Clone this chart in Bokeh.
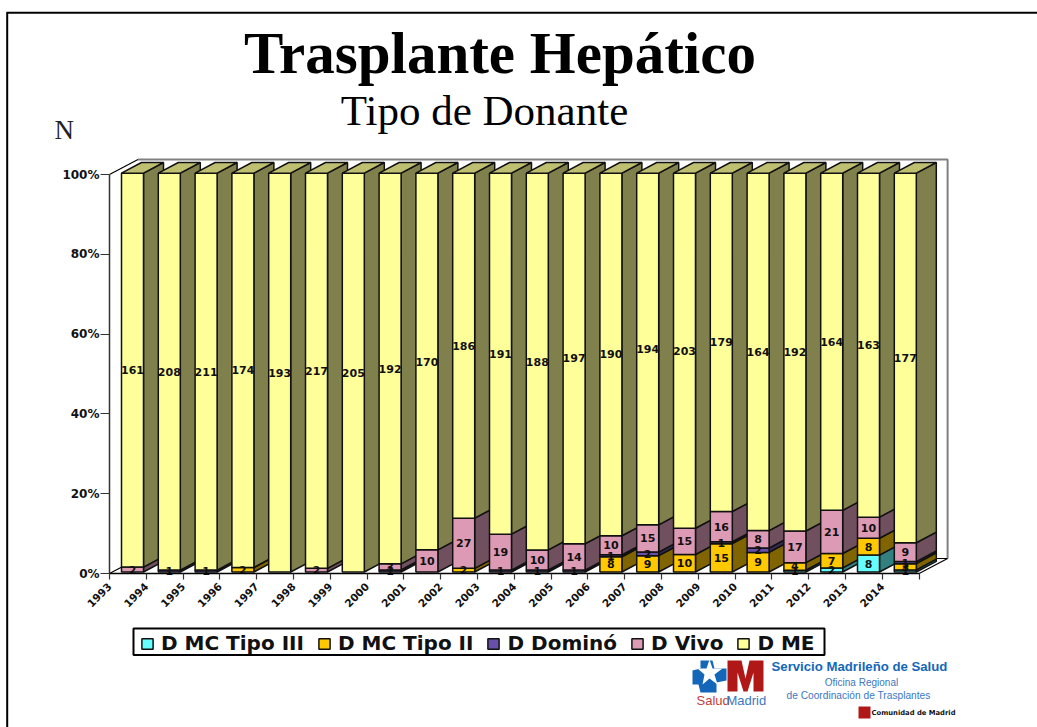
from bokeh.plotting import figure
from bokeh.embed import file_html
from bokeh.resources import INLINE
from bokeh.models import Range1d, FixedTicker, Legend, LegendItem
from bokeh.core.properties import value

years = [1993,1994,1995,1996,1997,1998,1999,2000,2001,2002,2003,2004,2005,2006,2007,2008,2009,2010,2011,2012,2013,2014]
d_mc3   = [0,0,0,0,0,0,0,0,0,0,0,0,0,0,0,0,0,0,1,2,8,1]
d_mc2   = [0,0,0,2,0,0,0,0,0,2,0,0,0,8,9,10,15,9,4,7,8,3]
d_domino= [0,1,1,0,0,0,0,1,0,0,1,1,1,1,2,0,1,2,0,0,0,1]
d_vivo  = [2,0,0,0,0,2,0,3,10,27,19,10,14,10,15,15,16,8,17,21,10,9]
d_me    = [161,208,211,174,193,217,205,192,170,186,191,188,197,190,194,203,179,164,192,164,163,177]
series_names = ["D MC Tipo III","D MC Tipo II","D Dominó","D Vivo","D ME"]
series_vals = [d_mc3,d_mc2,d_domino,d_vivo,d_me]
front_cols = ["#66FFFF","#FFC800","#6650A8","#DD9AB4","#FFFF99"]
side_cols  = ["#338080","#806400","#332854","#70505F","#80804C"]
top_cols   = ["#4CBFBF","#BF9600","#4C3C7E","#A67387","#BFBF72"]

W,H = 1037,727
X0,PX_X = 109.0,36.8   # page px of tick 0, px per category
Y0,PX_Y = 573.0,3.99   # page px of 0 %, px per percent
fx = lambda px:(px-X0)/PX_X
fy = lambda py:(Y0-py)/PX_Y

p = figure(width=W,height=H,output_backend="svg",toolbar_location=None,
           x_range=Range1d(fx(0),fx(W)),y_range=Range1d(fy(H),fy(0)),
           min_border=0,outline_line_color=None,background_fill_color="white")
p.grid.visible=False

# page frame
p.line([fx(6.7),fx(6.7)],[fy(12),fy(H)],line_color="black",line_width=2)
p.line([fx(6),fx(W)],[fy(12.3),fy(12.3)],line_color="black",line_width=2)

# walls / floor
WDX,WDY = 28.5/PX_X,15.0/PX_Y
p.line([0,WDX],[100,100+WDY],line_color="black",line_width=1.2)
p.line([WDX,22+WDX,22+WDX],[100+WDY,100+WDY,WDY],line_color="#808080",line_width=2)
p.line([0,WDX,22+WDX,22],[0,WDY,WDY,0],line_color="black",line_width=1.2)

# bars
BL,BW = 12.0/PX_X,22.0/PX_X
DX,DY = 20.0/PX_X,10.7/PX_Y
FY = 1.5/PX_Y
FH = 100.0-0.05
legend_r = {}
labels_x,labels_y,labels_t = [],[],[]
for i,_ in enumerate(years):
    total = sum(s[i] for s in series_vals)
    cum = 0
    for j,s in enumerate(series_vals):
        v = s[i]
        if v==0: continue
        y0 = FY+FH*cum/total
        y1 = FY+FH*(cum+v)/total
        cum += v
        x0,x1 = i+BL,i+BL+BW
        kw = dict(line_color="#111111",line_width=1.5)
        p.patch([x1,x1+DX,x1+DX,x1],[y0,y0+DY,y1+DY,y1],fill_color=side_cols[j],**kw)
        r = p.patch([x0,x1,x1,x0],[y0,y0,y1,y1],fill_color=front_cols[j],**kw)
        legend_r.setdefault(j,r)
        if cum==total:
            p.patch([x0,x1,x1+DX,x0+DX],[y1,y1,y1+DY,y1+DY],fill_color=top_cols[j],**kw)
        labels_x.append((x0+x1)/2); labels_y.append((y0+y1)/2); labels_t.append(str(v))

p.text(labels_x,labels_y,text=labels_t,text_font=value("DejaVu Sans"),text_font_style="bold",
       text_font_size="11px",text_align="center",text_baseline="middle",text_color="#111111")

# axes (real, fixed on the data)
p.yaxis.fixed_location = 0
p.yaxis.bounds=(0,100)
p.yaxis.ticker=FixedTicker(ticks=[0,20,40,60,80,100])
p.yaxis.major_label_overrides={v:f"{v}%" for v in [0,20,40,60,80,100]}
p.yaxis.major_label_text_font="DejaVu Sans"
p.yaxis.major_label_text_font_style="bold"
p.yaxis.major_label_text_font_size="12px"
p.yaxis.major_label_text_color="#111111"
p.yaxis.axis_line_color="#333333"; p.yaxis.axis_line_width=1.5
p.yaxis.major_tick_line_color="#333333"; p.yaxis.major_tick_line_width=1.2
p.yaxis.major_tick_out=9; p.yaxis.major_tick_in=0
p.yaxis.minor_tick_line_color=None
p.yaxis.major_label_standoff=1

p.xaxis.fixed_location = 0
p.xaxis.bounds=(0,22)
p.xaxis.ticker=FixedTicker(ticks=list(range(23)))
p.xaxis.major_label_overrides={**{i:str(y) for i,y in enumerate(years)},22:""}
p.xaxis.major_label_orientation=0.785
p.xaxis.major_label_text_font="DejaVu Sans"
p.xaxis.major_label_text_font_style="bold"
p.xaxis.major_label_text_font_size="10.5px"
p.xaxis.major_label_text_color="#111111"
p.xaxis.axis_line_color="black"; p.xaxis.axis_line_width=1.5
p.xaxis.major_tick_line_color="#333333"; p.xaxis.major_tick_line_width=1.2
p.xaxis.major_tick_out=6; p.xaxis.major_tick_in=0
p.xaxis.minor_tick_line_color=None
p.xaxis.major_label_standoff=5

# titles
def txt(x,y,t,font,size,style="normal",color="black",align="left",base="alphabetic"):
    p.text([fx(x)],[fy(y)],text=[t],text_font=value(font),text_font_style=style,text_font_size=size,
           text_color=color,text_align=align,text_baseline=base)
txt(499.5,52,"Trasplante Hepático","Liberation Serif","59px","bold",align="center")
txt(484,110,"Tipo de Donante","Liberation Serif","43px",align="center")
txt(54,129,"N","Liberation Serif","27px",color="#222222")

# legend box and legend
p.patch([fx(133),fx(824),fx(824),fx(133)],[fy(628),fy(628),fy(654.5),fy(654.5)],
        fill_color="white",line_color="black",line_width=2)
legend = Legend(items=[LegendItem(label=n,renderers=[legend_r[j]]) for j,n in enumerate(series_names)],
                orientation="horizontal",location=(140,72),
                label_text_font="DejaVu Sans",label_text_font_style="bold",label_text_font_size="20px",
                label_text_color="#111111",glyph_width=14,glyph_height=13,label_standoff=7,spacing=13,
                padding=0,margin=0,border_line_color=None,background_fill_alpha=0)
p.add_layout(legend)

# institutional logo
blue,red = "#1467B8","#B01818"
def poly(pts,c):
    p.patch([fx(a) for a,_ in pts],[fy(b) for _,b in pts],fill_color=c,line_color=None)
poly([(700,660),(712,660),(714,668),(726,668),(726,680),(716,682),(716,692),(700,692),(698,684),(692,684),(692,670),(700,668)],blue)
poly([(709,659),(712,668),(722,668),(714,674),(717,684),(709,678),(702,684),(704,674),(697,668),(706,668)],"white")
poly([(727,660),(741,660),(745,678),(749,660),(763,660),(763,691),(753,691),(753,672),(747,691),(743,691),(737,672),(737,691),(727,691)],red)
txt(696,700,"Salud","Liberation Sans","13px",color="#C04040")
txt(726,700,"Madrid","Liberation Sans","13px",color="#3C78C0")
txt(771,666,"Servicio Madrileño de Salud","Liberation Sans","13.2px","bold",color=blue)
txt(861,682,"Oficina Regional","Liberation Sans","10px",color="#3C78C0",align="center")
txt(858,695,"de Coordinación de Trasplantes","Liberation Sans","10.2px",color="#3C78C0",align="center")
poly([(858,706),(870,706),(870,718),(858,718)],red)
txt(871,712,"Comunidad de Madrid","DejaVu Sans","6.8px","bold",color="#111111")

open("out.html","w").write(file_html(p,INLINE))
